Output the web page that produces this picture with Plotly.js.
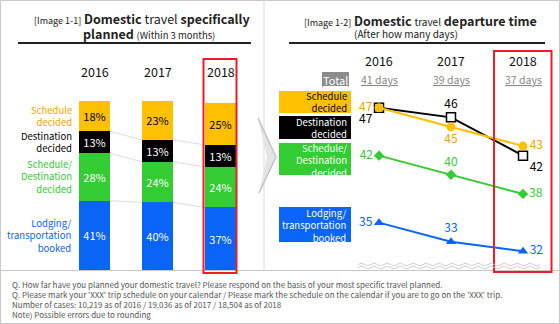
<!DOCTYPE html>
<html><head><meta charset="utf-8">
<script src="https://cdn.plot.ly/plotly-3.0.1.min.js"></script>
<style>html,body{margin:0;padding:0;background:#fff;}#chart{width:560px;height:324px;}</style>
</head><body><div id="chart"></div>
<script>
// ---- data ----
const years = ['2016', '2017', '2018'];
const schedPct = [18, 23, 25];
const destPct = [13, 13, 13];
const bothPct = [28, 24, 24];
const lodgePct = [41, 40, 37];
const schedDays = [47, 45, 43];
const destDays = [47, 46, 42];
const bothDays = [42, 40, 38];
const lodgeDays = [35, 33, 32];
const totalDays = [41, 39, 37];
const catLines = [['Schedule', 'decided'], ['Destination', 'decided'], ['Schedule/', 'Destination', 'decided'], ['Lodging/', 'transportation', 'booked']];
const footnotes = [
  'Q. How far have you planned your domestic travel? Please respond on the basis of your most specific travel planned.',
  "Q. Please mark your 'XXX' trip schedule on your calendar / Please mark the schedule on the calendar if you are to go on the 'XXX' trip.",
  'Number of cases: 10,219 as of 2016 / 19,036 as of 2017 / 18,504 as of 2018',
  'Note) Possible errors due to rounding'
];

// ---- style ----
const W = 560, H = 324;
const FONT = '"Noto Sans CJK KR", "Noto Sans", sans-serif';
const ORANGE = '#FFC000', ORANGE_T = '#F5A300', BLACK = '#000000', GREEN = '#33CC33', BLUE = '#0A64F5', RED = '#EE1C25';
const px = x => x / W;
const py = y => 1 - y / H;

const traces = [];
const barSeries = [
  { y: lodgePct, color: BLUE, txt: '#fff' },
  { y: bothPct, color: GREEN, txt: '#fff' },
  { y: destPct, color: BLACK, txt: '#fff' },
  { y: schedPct, color: ORANGE, txt: '#000' }
];
const BW = 0.49;
barSeries.forEach(s => traces.push({
  type: 'bar', x: years, y: s.y, xaxis: 'x', yaxis: 'y', width: BW,
  marker: { color: s.color, line: { width: 0 } },
  text: s.y.map(v => v + '%'), textposition: 'inside', insidetextanchor: 'middle', textangle: 0,
  constraintext: 'none', textfont: { family: FONT, size: 11, color: s.txt }, hoverinfo: 'skip'
}));

const lineSeries = [
  { y: destDays, color: BLACK, tcolor: BLACK, sym: 'square', fill: '#fff', size: 9, pos: ['bottom left', 'top center', 'bottom right'] },
  { y: schedDays, color: ORANGE, tcolor: ORANGE_T, sym: 'circle', fill: ORANGE, size: 9, pos: ['middle left', 'bottom center', 'middle right'] },
  { y: bothDays, color: GREEN, tcolor: GREEN, sym: 'diamond', fill: GREEN, size: 8, pos: ['middle left', 'top center', 'middle right'] },
  { y: lodgeDays, color: BLUE, tcolor: BLUE, sym: 'triangle-up', fill: BLUE, size: 9, pos: ['middle left', 'top center', 'middle right'] }
];
lineSeries.forEach(s => traces.push({
  type: 'scatter', mode: 'lines+markers+text', x: years, y: s.y, xaxis: 'x2', yaxis: 'y2',
  line: { color: s.color, width: 2 },
  marker: { symbol: s.sym, size: s.size, color: s.fill, line: { color: s.color, width: s.sym === 'square' ? 1.5 : 0 } },
  text: s.y.map(String), textposition: s.pos, textfont: { family: FONT, size: 12, color: s.tcolor },
  cliponaxis: false, hoverinfo: 'skip'
}));

// ---- shapes ----
const shapes = [];
const P = (o) => Object.assign({ xref: 'paper', yref: 'paper' }, o);
const rect = (x0, y0, x1, y1, fill, line, lw) => P({ type: 'rect', x0: px(x0), x1: px(x1), y0: py(y0), y1: py(y1), fillcolor: fill, line: { color: line || fill, width: lw || 0 } });
const seg = (x0, y0, x1, y1, color, w) => P({ type: 'line', x0: px(x0), x1: px(x1), y0: py(y0), y1: py(y1), line: { color, width: w } });

shapes.push(rect(0.5, 0.5, 559.5, 323.5, 'rgba(0,0,0,0)', '#c8c8c8', 1));
shapes.push(seg(264, 0, 264, 270, '#dcdcdc', 1));
shapes.push(seg(0, 270.5, 560, 270.5, '#c8c8c8', 1));
shapes.push(seg(18, 43, 251, 43, '#222', 2));
shapes.push(seg(289, 43, 545, 43, '#222', 2));

// connectors between stacked bar segments
const cum = years.map((_, i) => [lodgePct[i], lodgePct[i] + bothPct[i], lodgePct[i] + bothPct[i] + destPct[i]]);
for (let i = 0; i < years.length - 1; i++) {
  for (let k = 0; k < 3; k++) {
    shapes.push({ type: 'line', xref: 'x', yref: 'y', x0: i + BW / 2, x1: i + 1 - BW / 2, y0: cum[i][k], y1: cum[i + 1][k], line: { color: '#dedede', width: 1 }, layer: 'below' });
  }
}

// chevron
const chev = (pts) => 'M' + pts.map(p => px(p[0]) + ',' + py(p[1])).join(' L') + ' Z';
shapes.push(P({ type: 'path', path: chev([[258, 118], [276, 157], [259, 193], [267, 157]]), fillcolor: '#e4e4e4', line: { color: '#e4e4e4', width: 0 } }));
shapes.push(P({ type: 'path', path: 'M' + px(258) + ',' + py(118) + ' L' + px(276) + ',' + py(157) + ' L' + px(259) + ',' + py(193), line: { color: '#c4c4c4', width: 1.5 } }));

// right label boxes
const boxes = [[91, 113, ORANGE], [116, 139, BLACK], [143, 175, GREEN], [207, 242, BLUE]];
boxes.forEach(b => shapes.push(rect(279, b[0], 351, b[1], b[2])));
shapes.push(rect(322, 72, 349, 87, '#8c8c8c'));

// red highlight frames
shapes.push(rect(203.5, 59, 236.5, 273, 'rgba(0,0,0,0)', RED, 2));
shapes.push(rect(494, 51, 551.5, 272, 'rgba(0,0,0,0)', RED, 2));

// wavy axis-break lines
function wave(x0, x1, y, amp, period) {
  let s = 'M' + px(x0) + ',' + py(y);
  let up = true;
  for (let x = x0; x < x1; x += period / 2) {
    const cx = x + period / 4, ex = x + period / 2;
    s += ' Q' + px(cx) + ',' + py(y + (up ? -amp : amp) * 2) + ' ' + px(ex) + ',' + py(y);
    up = !up;
  }
  return s;
}
shapes.push(P({ type: 'path', path: wave(358, 538, 264.5, 1.3, 13), line: { color: '#cfcfcf', width: 1 } }));
shapes.push(P({ type: 'path', path: wave(358, 538, 267.5, 1.3, 13), line: { color: '#cfcfcf', width: 1 } }));

// ---- annotations ----
const ann = [];
const A = (o) => Object.assign({ xref: 'paper', yref: 'paper', showarrow: false, yanchor: 'middle', borderpad: 0 }, o);
function ml(lines, x, yc, font, xanchor) {
  return A({ x: px(x), y: py(yc), xanchor, align: 'right', text: lines.join('<br>'), font });
}

// titles
ann.push(A({ x: px(33), y: py(18.5), xanchor: 'left', text: '<span style="font-size:9px">[Image 1-1]</span> <b>Domestic</b> travel <b>specifically</b>', font: { family: FONT, size: 12.5, color: '#222' } }));
ann.push(A({ x: px(82), y: py(33), xanchor: 'left', text: '<b>planned</b> <span style="font-size:9.5px">(Within 3 months)</span>', font: { family: FONT, size: 12.5, color: '#222' } }));
ann.push(A({ x: px(303), y: py(20.5), xanchor: 'left', text: '<span style="font-size:9px">[Image 1-2]</span> <b>Domestic</b> <span style="font-size:10px">travel</span> <b>departure time</b>', font: { family: FONT, size: 12.5, color: '#222' } }));
ann.push(A({ x: px(353), y: py(33), xanchor: 'left', text: '(After how many days)', font: { family: FONT, size: 10, color: '#222' } }));

// years (category index positions on each x axis)
years.forEach((y, i) => {
  ann.push(A({ xref: 'x', x: i, y: py(71.5), xanchor: 'center', text: y, font: { family: FONT, size: 12.5, color: '#111' } }));
  ann.push(A({ xref: 'x2', x: i, y: py(61), xanchor: 'center', text: y, font: { family: FONT, size: 12.5, color: '#111' } }));
});
// totals
ann.push(A({ x: px(335.5), y: py(79.5), xanchor: 'center', text: '<u>Total</u>', font: { family: FONT, size: 11, color: '#fff' } }));
totalDays.forEach((d, i) => ann.push(A({ xref: 'x2', x: i, y: py(79.5), xanchor: 'center', text: '<u>' + d + ' days</u>', font: { family: FONT, size: 10.5, color: '#888' } })));

// left category labels
const leftColors = [ORANGE_T, BLACK, GREEN, BLUE];
const leftCenters = [116, 142, 176, 235];
catLines.forEach((l, i) => ann.push(ml(l, 73, leftCenters[i], { family: FONT, size: 9.5, color: leftColors[i] }, 'right')));
// right category labels (in boxes)
const rightColors = ['#000', '#fff', '#fff', '#fff'];
const rightCenters = [102, 127.5, 160, 225];
catLines.forEach((l, i) => ann.push(ml(l, 348, rightCenters[i], { family: FONT, size: 9.5, color: rightColors[i] }, 'right')));

// footnotes
footnotes.forEach((t, i) => ann.push(A({ x: px(11), y: py(284 + i * 10.3), xanchor: 'left', text: t, font: { family: FONT, size: 8, color: '#555' } })));

// ---- layout ----
const yMin2 = 30.05, yMax2 = 53.56;
const layout = {
  width: W, height: H, margin: { l: 0, r: 0, t: 0, b: 0 },
  paper_bgcolor: '#fff', plot_bgcolor: 'rgba(0,0,0,0)', showlegend: false, barmode: 'stack',
  font: { family: FONT },
  xaxis: { domain: [0, 263 / W], range: [-1.5, -1.5 + 263 / 63], type: 'category', visible: false, fixedrange: true },
  yaxis: { domain: [py(270), py(101)], range: [0, 100], visible: false, fixedrange: true },
  xaxis2: { domain: [263 / W, 1], range: [(263 - 379) / 72, (560 - 379) / 72], type: 'category', anchor: 'y2', visible: false, fixedrange: true },
  yaxis2: { domain: [py(270), py(45)], range: [yMin2, yMax2], anchor: 'x2', visible: false, fixedrange: true },
  shapes, annotations: ann
};
Plotly.newPlot('chart', traces, layout, { staticPlot: true, displayModeBar: false });
</script></body></html>
